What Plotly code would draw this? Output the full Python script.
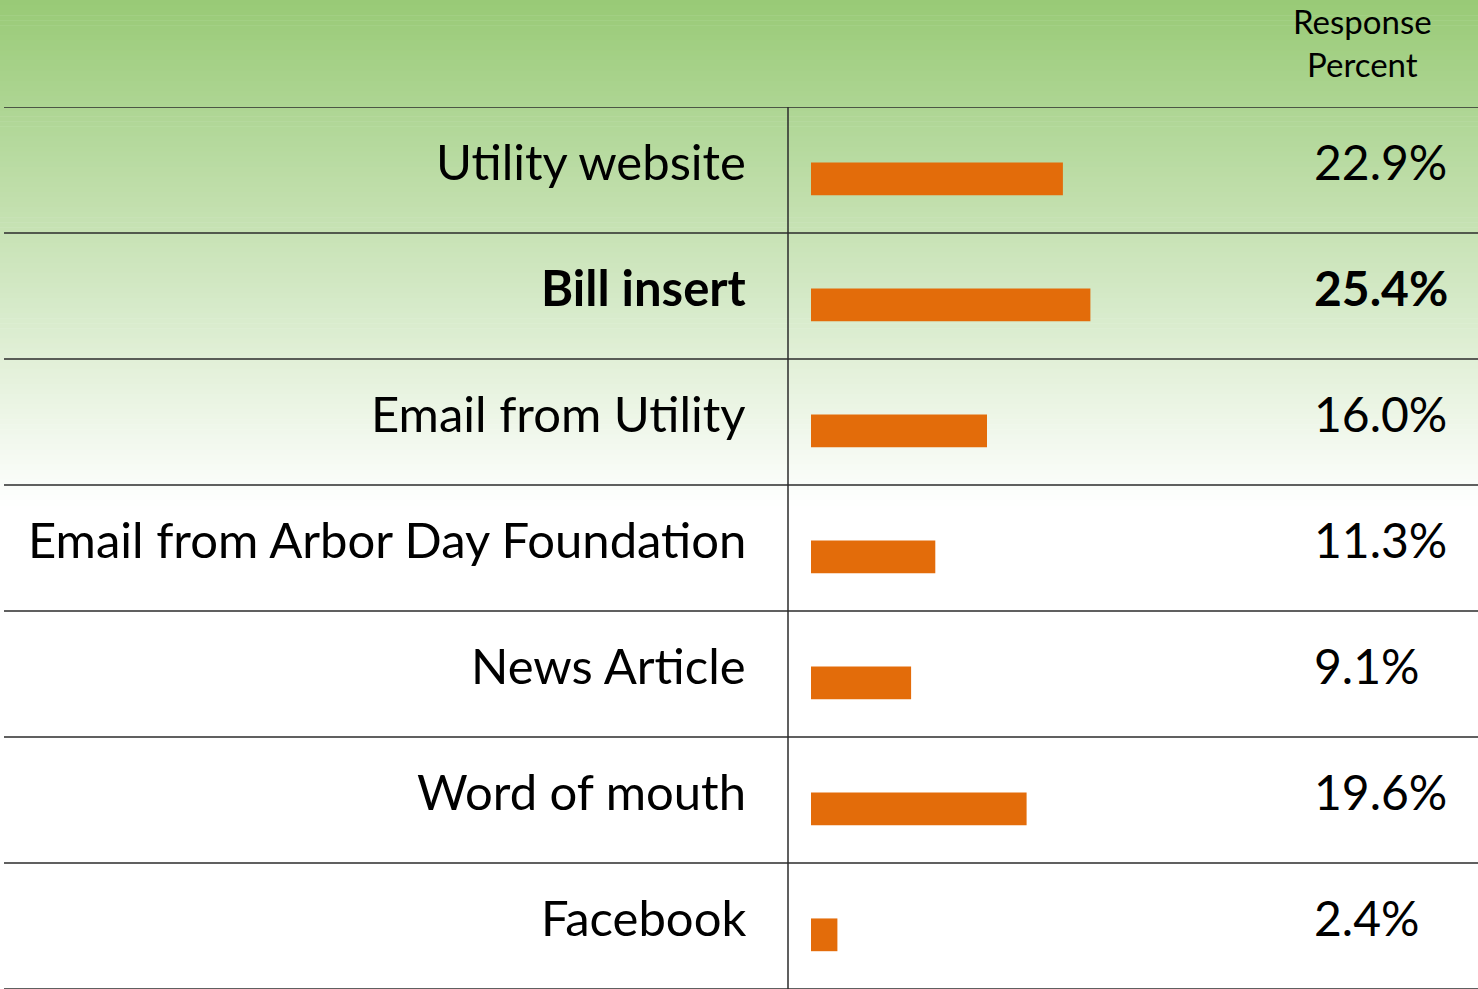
import plotly.graph_objects as go

# Survey: how respondents heard about the program
sources = [
    "Utility website",
    "Bill insert",
    "Email from Utility",
    "Email from Arbor Day Foundation",
    "News Article",
    "Word of mouth",
    "Facebook",
]
response_pct = [22.9, 25.4, 16.0, 11.3, 9.1, 19.6, 2.4]
highlight = "Bill insert"

header_text = "Response<br>Percent"

W, H = 1478, 989
TOP = 107          # header band height in px
SPLIT = 788        # x of the divider between labels and bars
FONT = "Lato"
BAR_COLOR = "#E36C0A"
LINE_COLOR = "#2b2b2b"

fig = go.Figure()

fig.add_trace(go.Bar(
    x=response_pct,
    y=sources,
    orientation="h",
    marker=dict(color=BAR_COLOR, line=dict(width=0)),
    width=0.26,
    offset=-0.06,
    hoverinfo="skip",
))

shapes = []

# vertical green-to-white gradient behind the upper part of the table
top_rgb = (152, 202, 118)
grad_end = 505
steps = 100
for i in range(steps):
    y0 = grad_end * i / steps
    y1 = grad_end * (i + 1) / steps + 0.6
    t = (i + 0.5) / steps
    r, g, b = (int(round(c + (255 - c) * t)) for c in top_rgb)
    shapes.append(dict(
        type="rect", xref="paper", yref="paper",
        x0=0, x1=1, y0=1 - y1 / H, y1=1 - y0 / H,
        fillcolor=f"rgb({r},{g},{b})", line=dict(width=0), layer="below",
    ))

# row separators
for i in range(len(sources) + 1):
    shapes.append(dict(
        type="line", xref="paper", yref="y",
        x0=4 / W, x1=1, y0=i - 0.5, y1=i - 0.5,
        line=dict(color=LINE_COLOR, width=1.5),
    ))

# column divider
shapes.append(dict(
    type="line", xref="paper", yref="paper",
    x0=SPLIT / W, x1=SPLIT / W, y0=0, y1=1 - TOP / H,
    line=dict(color=LINE_COLOR, width=1.5),
))

annotations = []
for name, val in zip(sources, response_pct):
    bold = name == highlight
    label = f"<b>{name}</b>" if bold else name
    pct = f"{val:.1f}%"
    pct = f"<b>{pct}</b>" if bold else pct
    annotations.append(dict(
        text=label, x=748 / W, xref="paper", xanchor="right",
        y=name, yref="y", yanchor="middle", yshift=9,
        showarrow=False, font=dict(family=FONT, size=49, color="black"),
    ))
    annotations.append(dict(
        text=pct, x=1312 / W, xref="paper", xanchor="left",
        y=name, yref="y", yanchor="middle", yshift=9,
        showarrow=False, font=dict(family=FONT, size=48, color="black"),
    ))

annotations.append(dict(
    text=header_text, x=1362 / W, xref="paper", xanchor="center",
    y=1 - 43 / H, yref="paper", yanchor="middle",
    showarrow=False, font=dict(family=FONT, size=33, color="black"),
))

fig.update_layout(
    width=W, height=H,
    margin=dict(l=0, r=0, t=0, b=0),
    paper_bgcolor="white",
    plot_bgcolor="rgba(0,0,0,0)",
    showlegend=False,
    shapes=shapes,
    annotations=annotations,
    xaxis=dict(
        domain=[SPLIT / W, 1],
        range=[-23 / 11, (W - SPLIT - 23) / 11],
        visible=False, fixedrange=True,
    ),
    yaxis=dict(
        domain=[0, 1 - TOP / H],
        type="category",
        categoryorder="array", categoryarray=sources,
        range=[len(sources) - 0.5, -0.5],
        visible=False, fixedrange=True,
    ),
)

fig.write_html("out.html")
